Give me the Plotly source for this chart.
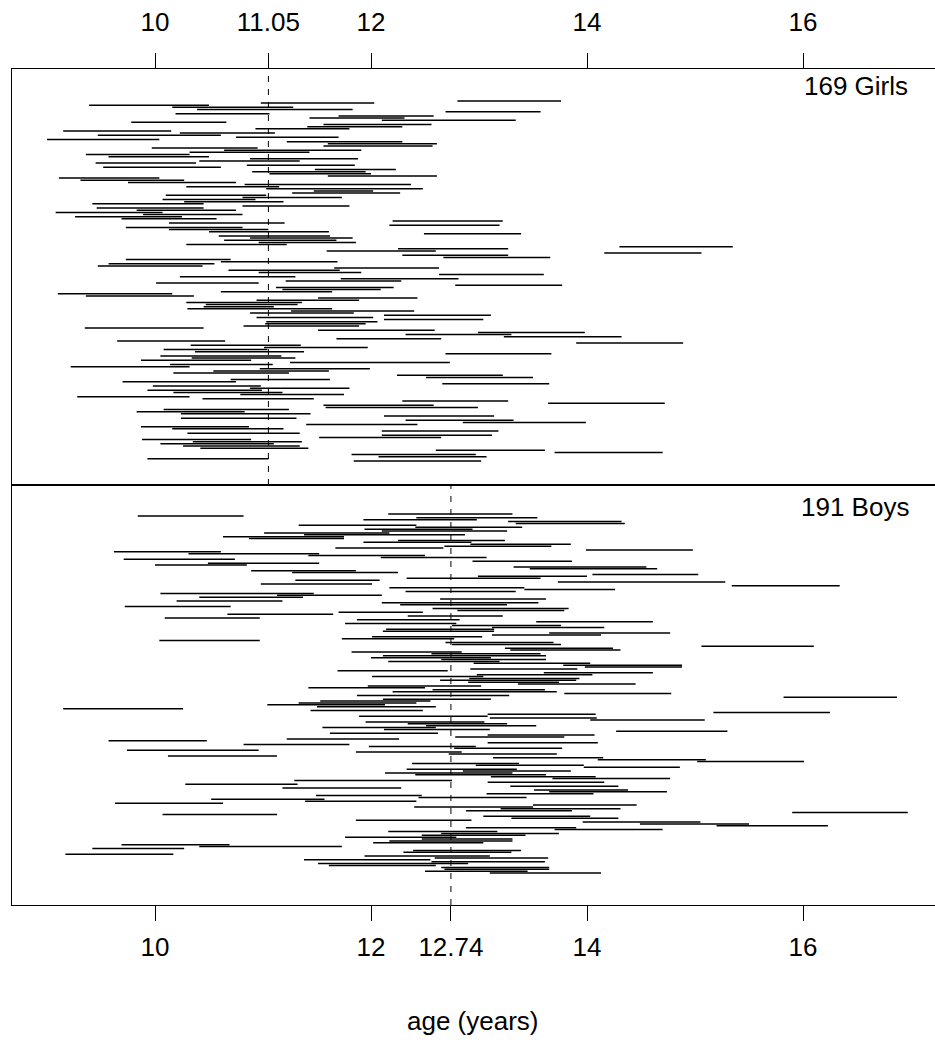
import plotly.graph_objects as go

# ---- data: (start, end) ages in years, ordered top to bottom ----
girls_start = [12.80,10.98,9.39,10.16,10.39,12.69,10.19,11.70,11.43,12.10,9.78,11.56,11.41,10.93,9.15,10.23,9.47,10.75,9.00,11.22,
               11.60,11.56,9.97,10.64,10.32,9.36,9.57,10.88,10.41,9.45,10.85,9.52,11.48,10.90,11.06,11.60,9.11,9.31,9.75,10.83,
               10.29,11.03,11.47,11.27,10.10,10.81,10.07,10.27,9.42,10.81,9.46,9.83,9.08,9.89,9.26,9.69,12.20,10.13,12.17,9.73,
               10.13,10.50,12.49,10.59,10.88,10.64,10.96,10.29,14.30,12.25,11.59,14.16,12.29,12.67,9.73,10.61,9.57,9.47,11.66,10.68,
               10.96,12.63,10.23,11.72,11.21,10.01,12.78,11.12,11.18,10.61,9.10,9.36,11.51,10.94,10.29,10.47,10.45,10.30,11.26,10.88,
               12.12,10.94,12.12,11.03,11.02,10.82,9.35,11.51,12.99,12.32,13.23,11.68,9.65,13.90,10.33,11.01,10.08,10.37,12.69,10.05,
               10.34,9.87,11.25,10.14,9.22,10.97,10.54,10.17,12.24,12.51,10.70,9.70,12.66,9.98,10.88,9.93,10.17,10.79,9.28,10.44,
               12.29,13.64,11.56,11.58,10.08,9.83,10.24,12.12,10.24,12.32,12.85,11.40,9.87,10.16,12.10,10.30,12.10,11.52,9.88,10.35,
               10.05,10.26,10.42,12.60,13.70,11.82,12.07,9.93,11.84]
girls_end = [13.76,12.03,10.50,11.28,11.83,13.57,11.06,12.58,12.31,13.34,10.66,12.56,12.29,11.80,10.15,11.11,10.61,11.70,10.04,12.29,
             12.61,12.57,10.95,11.91,11.43,10.32,10.50,11.88,11.34,10.38,11.85,10.61,12.23,11.95,12.00,12.61,10.04,10.27,10.75,12.37,
             11.15,12.48,12.02,12.27,11.03,11.73,10.93,11.19,10.45,11.80,10.45,10.75,10.07,10.81,10.25,10.57,13.22,11.20,13.19,10.81,
             11.05,11.61,13.39,11.62,11.83,11.68,11.86,11.22,15.35,13.27,12.60,15.06,13.27,13.66,10.70,11.69,10.55,10.44,12.63,11.71,
             11.91,13.60,11.30,12.81,12.28,10.96,13.77,12.21,12.09,11.64,10.16,10.36,12.43,11.89,11.36,11.32,11.10,11.64,12.40,11.84,
             13.11,12.02,13.04,12.06,11.95,11.89,10.45,12.59,13.98,13.30,14.32,12.65,10.65,14.89,11.35,11.97,11.04,11.38,13.67,11.17,
             11.30,10.89,12.73,11.09,10.32,11.99,11.61,11.24,13.22,13.50,11.62,10.75,13.65,10.98,11.80,10.99,11.18,11.75,10.32,11.47,
             13.27,14.72,12.58,12.99,11.24,10.83,11.44,13.14,11.31,13.32,13.99,12.43,10.87,11.19,13.18,11.34,13.12,12.65,10.89,11.36,
             11.10,11.34,11.42,13.61,14.70,12.97,13.07,11.05,13.02]

boys_start = [12.16,9.84,12.42,11.93,13.27,13.34,11.33,12.41,11.94,12.10,11.01,11.38,10.63,10.87,12.25,11.93,12.92,12.68,11.67,13.99,
              9.62,10.31,11.42,12.09,9.71,12.94,10.49,10.00,13.32,13.47,10.89,11.27,14.05,12.99,12.33,11.30,13.73,10.98,15.34,12.17,
              13.42,12.32,10.05,11.13,10.41,12.64,10.20,12.10,12.27,9.72,12.57,12.80,11.70,10.67,12.34,10.09,11.87,13.53,11.76,12.75,
              13.12,12.14,12.11,13.65,13.12,12.01,11.73,10.04,12.69,12.75,15.06,13.24,13.29,11.82,12.56,12.11,12.00,12.65,12.16,12.95,
              13.78,13.98,12.92,11.69,13.60,12.98,12.01,12.91,12.64,12.90,13.36,11.97,11.42,12.57,12.20,13.79,11.87,15.82,12.11,11.53,
              11.33,11.04,11.50,9.15,11.44,15.17,13.08,11.89,13.10,14.03,11.95,12.34,12.51,11.55,12.12,14.27,11.62,13.08,12.78,11.22,
              9.57,13.08,10.82,11.98,12.77,9.74,11.86,12.72,10.12,13.13,14.10,15.02,12.38,12.97,13.97,12.33,12.85,12.13,12.41,13.11,
              13.68,11.29,13.08,10.28,13.29,11.18,13.51,13.65,13.07,11.49,12.44,10.52,11.39,9.63,13.50,12.40,13.20,12.88,15.90,10.07,
              13.04,13.30,11.86,13.96,14.49,15.20,12.88,13.70,12.16,12.65,12.47,11.76,12.47,12.17,12.02,9.69,10.41,9.42,12.39,12.30,
              9.17,11.94,12.59,11.38,12.56,11.51,11.61,12.65,12.68,12.50,13.10]
boys_end = [13.31,10.82,13.54,12.98,14.32,14.35,12.42,13.40,12.94,13.26,12.17,12.87,11.75,11.75,13.24,12.93,13.85,13.67,12.67,14.98,
            10.61,11.52,12.50,13.07,10.74,13.86,11.52,10.85,14.55,14.65,11.86,12.25,15.03,14.00,13.57,12.08,15.28,12.01,16.34,13.42,
            14.26,13.34,11.47,12.10,11.37,13.62,11.18,13.55,13.26,10.70,13.83,13.79,12.48,11.65,13.22,10.97,12.82,14.61,12.79,13.76,
            14.16,13.14,13.14,14.77,14.13,13.03,12.77,10.97,13.69,13.76,16.10,14.24,14.31,12.84,13.57,13.62,13.11,13.62,13.19,14.03,
            14.88,14.88,13.91,12.71,14.61,14.05,13.04,13.93,13.90,13.74,14.45,13.02,12.50,13.61,13.72,14.78,13.28,16.87,13.11,12.55,
            12.42,12.13,12.60,10.26,12.48,16.25,14.08,13.08,14.09,15.09,13.05,13.26,13.53,12.60,13.10,15.30,12.62,14.07,13.79,12.26,
            10.48,14.10,11.80,12.97,13.77,10.96,12.84,13.72,11.13,14.15,15.10,16.01,13.37,13.97,14.86,13.35,13.85,13.31,13.62,14.08,
            14.77,12.75,14.16,11.32,14.29,12.28,14.38,14.74,14.06,12.47,13.44,11.57,12.42,10.63,14.46,13.50,14.31,13.86,16.97,11.13,
            14.03,14.29,12.93,15.05,15.50,16.23,13.90,14.70,13.17,13.74,13.43,12.79,13.31,13.31,13.04,10.69,11.73,10.27,13.39,13.30,
            10.17,13.10,13.64,12.55,13.61,12.90,12.60,13.65,13.65,13.45,14.13]

girls_mean = 11.05
boys_mean = 12.74
girls_label = "169 Girls"
boys_label = "191 Boys"
top_ticks = [10, 11.05, 12, 14, 16]
bottom_ticks = [10, 12, 12.74, 14, 16]
x_title = "age (years)"


def seg_xy(starts, ends):
    xs, ys = [], []
    for i, (s, e) in enumerate(zip(starts, ends), start=1):
        xs += [s, e, None]
        ys += [i, i, None]
    return xs, ys

FONT = "Liberation Sans, Arial, sans-serif"
FS = 26
ng, nb = len(girls_start), len(boys_start)
g_range = [ng + 11.2, 1 - 14.9]
b_range = [nb + 16.9, 1 - 15.35]

fig = go.Figure()
gx, gy = seg_xy(girls_start, girls_end)
bx, by = seg_xy(boys_start, boys_end)
fig.add_trace(go.Scatter(x=gx, y=gy, mode="lines", line=dict(color="black", width=1.5),
                         xaxis="x2", yaxis="y", hoverinfo="skip", showlegend=False))
fig.add_trace(go.Scatter(x=bx, y=by, mode="lines", line=dict(color="black", width=1.5),
                         xaxis="x", yaxis="y2", hoverinfo="skip", showlegend=False))
fig.add_trace(go.Scatter(x=[girls_mean, girls_mean], y=g_range, mode="lines",
                         line=dict(color="black", width=1, dash="6px,7px"),
                         xaxis="x2", yaxis="y", hoverinfo="skip", showlegend=False))
fig.add_trace(go.Scatter(x=[boys_mean, boys_mean], y=b_range, mode="lines",
                         line=dict(color="black", width=1, dash="6px,7px"),
                         xaxis="x", yaxis="y2", hoverinfo="skip", showlegend=False))

# plot box in page coords: x 12..935 (right edge open), y 69..905
W, H = 935, 1040
ml, mr, mt = 12, 0, 69
mb = H - 905
ph = 905 - 69
pw = W - ml - mr
PX_PER_YEAR = 108
split = (905 - 485) / ph
x0 = 10 - (155 - ml) / PX_PER_YEAR
xr = [x0, x0 + pw / PX_PER_YEAR]

axis_common = dict(showgrid=False, zeroline=False, showline=True, linecolor="black", linewidth=1,
                   ticks="outside", ticklen=15, tickwidth=1, tickcolor="black",
                   tickfont=dict(family=FONT, size=FS, color="black"))
fig.update_layout(
    width=W, height=H, margin=dict(l=ml, r=mr, t=mt, b=mb, autoexpand=False),
    paper_bgcolor="white", plot_bgcolor="white",
    xaxis=dict(domain=[0, 1], anchor="y2", range=xr, tickvals=bottom_ticks,
               ticktext=[f"{v:g}" for v in bottom_ticks], mirror=True,
               ticklabelstandoff=4, **axis_common),
    xaxis2=dict(domain=[0, 1], anchor="y", range=xr, matches="x", side="top", tickvals=top_ticks,
                ticktext=[f"{v:g}" for v in top_ticks], mirror=True,
                ticklabelstandoff=12, **axis_common),
    yaxis=dict(domain=[split, 1], anchor="x2", range=g_range, showticklabels=False, ticks="",
               showgrid=False, zeroline=False, showline=True, mirror=False, linecolor="black", linewidth=1),
    yaxis2=dict(domain=[0, split], anchor="x", range=b_range, showticklabels=False, ticks="",
                showgrid=False, zeroline=False, showline=True, mirror=False, linecolor="black", linewidth=1),
    annotations=[
        dict(text=x_title, xref="paper", yref="paper", x=(473 - ml) / pw, y=(905 - 1021) / ph,
             showarrow=False, font=dict(family=FONT, size=FS, color="black"), yanchor="middle"),
        dict(text=girls_label, xref="paper", yref="paper", x=(910 - ml) / pw, y=(905 - 86) / ph,
             xanchor="right", yanchor="middle", showarrow=False, font=dict(family=FONT, size=FS, color="black")),
        dict(text=boys_label, xref="paper", yref="paper", x=(911 - ml) / pw, y=(905 - 507) / ph,
             xanchor="right", yanchor="middle", showarrow=False, font=dict(family=FONT, size=FS, color="black")),
    ],
)

fig.write_html("out.html", config={"displayModeBar": False},
               post_script="document.body.style.margin='0';document.body.style.overflow='hidden';")
